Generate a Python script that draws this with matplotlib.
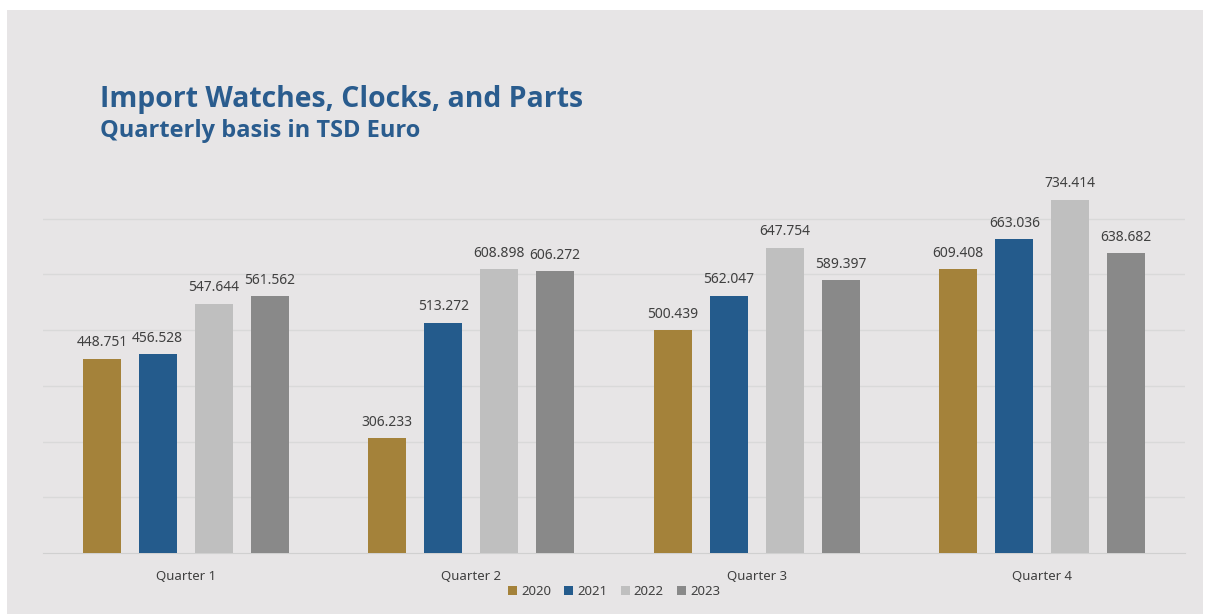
import matplotlib.pyplot as plt
import numpy as np
from matplotlib.patches import Rectangle

# Quarterly imports of watches, clocks and parts (TSD Euro)
quarters = ['Quarter 1', 'Quarter 2', 'Quarter 3', 'Quarter 4']
years = ['2020', '2021', '2022', '2023']
v2020 = [448.751, 306.233, 500.439, 609.408]
v2021 = [456.528, 513.272, 562.047, 663.036]
v2022 = [547.644, 608.898, 647.754, 734.414]
v2023 = [561.562, 606.272, 589.397, 638.682]

colors = ['#a4823a', '#245b8c', '#bfbfbf', '#898989']
bg = '#e7e5e6'
title_color = '#2a5c8e'
text_color = '#404040'

plt.rcParams['font.family'] = ['Noto Sans', 'DejaVu Sans']

fig = plt.figure(figsize=(12.05, 6.14), dpi=100)
fig.patch.set_facecolor('white')
# grey panel behind everything, leaving a thin white margin top/left
fig.patches.append(Rectangle((7 / 1205, 0), 1196 / 1205, 604 / 614,
                             transform=fig.transFigure, facecolor=bg,
                             edgecolor='none', zorder=-10))

ax = fig.add_axes([43 / 1205, 61 / 614, 1142 / 1205, 390 / 614])
ax.set_facecolor('none')
ax.set_zorder(1)

x = np.arange(len(quarters))
width = 0.133
offsets = [-0.294, -0.098, 0.098, 0.294]
series = [v2020, v2021, v2022, v2023]

for vals, off, c, yr in zip(series, offsets, colors, years):
    bars = ax.bar(x + off, np.array(vals) - 100, width, bottom=100, color=c,
                  label=yr, zorder=3)
    for b, v in zip(bars, vals):
        ax.annotate(f'{v:.3f}', (b.get_x() + b.get_width() / 2, v),
                    xytext=(0, 6), textcoords='offset points',
                    ha='center', va='bottom', fontsize=10, color=text_color)

ax.set_xlim(-0.5, 3.5)
ax.set_ylim(100, 800)
ax.set_yticks([200, 300, 400, 500, 600, 700])
ax.yaxis.grid(True, color='#d9d9d9', linewidth=1)
ax.tick_params(axis='y', left=False, labelleft=False)
ax.set_xticks(x)
ax.set_xticklabels(quarters, fontsize=9.5, color=text_color)
ax.tick_params(axis='x', length=0, pad=12)
for s in ['top', 'right', 'left']:
    ax.spines[s].set_visible(False)
ax.spines['bottom'].set_color('#d0d0d0')

leg = ax.legend(loc='upper center', bbox_to_anchor=(0.5, -0.052), ncol=4,
                frameon=False, fontsize=9.5, handlelength=0.7,
                handleheight=0.7, handletextpad=0.3, columnspacing=1.0)
for t in leg.get_texts():
    t.set_color(text_color)

fig.text(100 / 1205, 1 - 100 / 614, 'Import Watches, Clocks, and Parts',
         fontsize=20.4, fontweight='bold', color=title_color,
         va='center', ha='left', family=['Open Sans', 'DejaVu Sans'])
fig.text(100 / 1205, 1 - 131 / 614, 'Quarterly basis in TSD Euro',
         fontsize=17, fontweight='bold', color=title_color,
         va='center', ha='left', family=['Open Sans', 'DejaVu Sans'])

fig.savefig('out.png', dpi=100, facecolor=fig.get_facecolor())
